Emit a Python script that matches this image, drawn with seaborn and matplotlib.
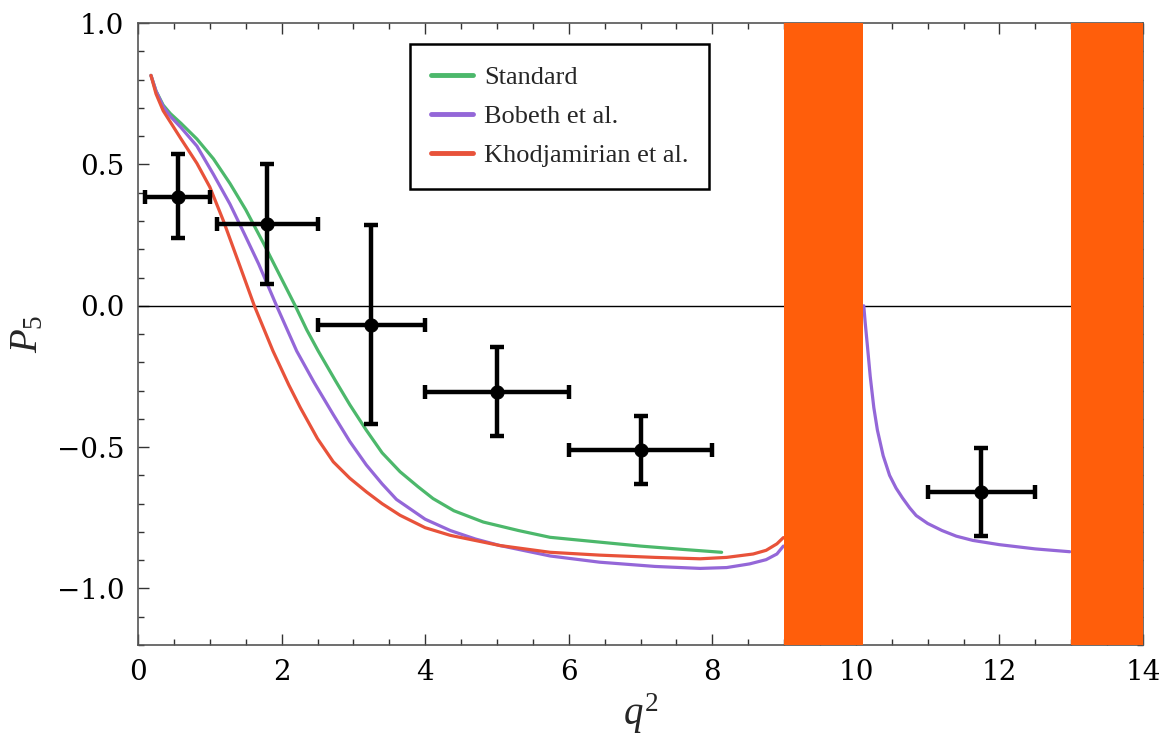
import numpy as np
import pandas as pd
import seaborn as sns
import matplotlib.pyplot as plt
from matplotlib.ticker import MultipleLocator

sns.set_style("ticks")
plt.rcParams['font.family'] = ['DejaVu Serif']
plt.rcParams['mathtext.fontset'] = 'custom'
plt.rcParams['mathtext.it'] = 'Liberation Serif:italic'
plt.rcParams['mathtext.rm'] = 'Liberation Serif'

# theory curves
std_x = [0.18, 0.25, 0.35, 0.45, 0.6, 0.82, 1.05, 1.28, 1.5, 1.75, 1.97, 2.19, 2.35, 2.51, 2.75, 2.95, 3.18,
         3.4, 3.65, 3.9, 4.11, 4.4, 4.81, 5.3, 5.74, 6.43, 7.0, 7.6, 8.13]
std_y = [0.815, 0.76, 0.71, 0.68, 0.645, 0.59, 0.52, 0.433, 0.34, 0.22, 0.11, 0.0, -0.085, -0.16, -0.265, -0.35, -0.44,
         -0.52, -0.587, -0.64, -0.682, -0.725, -0.765, -0.795, -0.819, -0.836, -0.85, -0.862, -0.872]

bob_x = [0.18, 0.25, 0.35, 0.45, 0.6, 0.82, 1.05, 1.28, 1.48, 1.68, 1.93, 2.21, 2.45, 2.72, 2.95, 3.18, 3.4, 3.6, 4.0,
         4.35, 4.7, 5.04, 5.74, 6.43, 7.2, 7.83, 8.2, 8.52, 8.75, 8.9, 8.99]
bob_y = [0.815, 0.76, 0.705, 0.67, 0.63, 0.565, 0.465, 0.36, 0.255, 0.148, 0.0, -0.16, -0.27, -0.385, -0.48, -0.563, -0.63, -0.685, -0.755,
         -0.795, -0.825, -0.848, -0.885, -0.907, -0.922, -0.929, -0.926, -0.913, -0.898, -0.878, -0.85]
bob2_x = [10.11, 10.13, 10.16, 10.2, 10.25, 10.3, 10.38, 10.47, 10.56, 10.65, 10.75, 10.84, 11.0, 11.2, 11.4,
          11.63, 12.0, 12.5, 12.98]
bob2_y = [0.0, -0.06, -0.14, -0.25, -0.36, -0.44, -0.53, -0.6, -0.645, -0.68, -0.715, -0.742, -0.77, -0.795, -0.815,
          -0.83, -0.845, -0.86, -0.87]

kho_x = [0.18, 0.25, 0.35, 0.45, 0.6, 0.82, 1.0, 1.19, 1.42, 1.62, 1.88, 2.1, 2.26, 2.5, 2.72, 2.95, 3.18, 3.4, 3.65, 4.0, 4.35,
         5.04, 5.74, 6.43, 7.2, 7.83, 8.2, 8.57, 8.75, 8.9, 8.99]
kho_y = [0.815, 0.75, 0.69, 0.65, 0.59, 0.504, 0.42, 0.30, 0.14, 0.0, -0.16, -0.28, -0.36, -0.47, -0.552, -0.61, -0.658, -0.70, -0.741, -0.785, -0.812,
         -0.848, -0.872, -0.882, -0.89, -0.895, -0.89, -0.878, -0.865, -0.842, -0.82]

# measurements
meas_x = [0.55, 1.8, 3.25, 5.0, 7.0, 11.75]
meas_xlo = [0.1, 1.1, 2.5, 4.0, 6.0, 11.0]
meas_xhi = [1.0, 2.5, 4.0, 6.0, 8.0, 12.5]
meas_y = [0.385, 0.288, -0.069, -0.305, -0.51, -0.66]
meas_ylo = [0.24, 0.077, -0.419, -0.46, -0.631, -0.815]
meas_yhi = [0.536, 0.50, 0.285, -0.146, -0.389, -0.504]

# vetoed regions
bands = [(9.0, 10.1), (13.0, 14.0)]

labels = ["Standard", "Bobeth et al.", "Khodjamirian et al."]
colors = ["#4cb86b", "#9467d8", "#e8523a"]

curves = pd.concat([
    pd.DataFrame({"q2": std_x, "P5": std_y, "model": labels[0], "seg": 0}),
    pd.DataFrame({"q2": bob_x, "P5": bob_y, "model": labels[1], "seg": 0}),
    pd.DataFrame({"q2": bob2_x, "P5": bob2_y, "model": labels[1], "seg": 1}),
    pd.DataFrame({"q2": kho_x, "P5": kho_y, "model": labels[2], "seg": 0}),
])

fig = plt.figure(figsize=(11.61, 7.45), dpi=100)
ax = fig.add_axes([0.1189, 0.1342, 0.8656, 0.8348])

ax.axhline(0, color="black", lw=1, zorder=1)
sns.lineplot(data=curves, x="q2", y="P5", hue="model", units="seg", estimator=None,
             hue_order=labels, palette=colors, lw=2.3, sort=False, ax=ax, zorder=3)

m = np.array(meas_x)
y = np.array(meas_y)
ax.errorbar(m, y,
            xerr=[m - np.array(meas_xlo), np.array(meas_xhi) - m],
            yerr=[y - np.array(meas_ylo), np.array(meas_yhi) - y],
            fmt="none", ecolor="black", elinewidth=3.2, capsize=5, capthick=3.2, zorder=4)
sns.scatterplot(x=meas_x, y=meas_y, color="black", s=90, edgecolor="black", zorder=5, ax=ax)

for a, b in bands:
    ax.axvspan(a, b, color="#ff5e0b", lw=0, zorder=6)

ax.set_xlim(0, 14)
ax.set_ylim(-1.2, 1.0)
ax.xaxis.set_major_locator(MultipleLocator(2))
ax.xaxis.set_minor_locator(MultipleLocator(0.5))
ax.yaxis.set_major_locator(MultipleLocator(0.5))
ax.yaxis.set_minor_locator(MultipleLocator(0.1))
ax.set_yticks([-1.0, -0.5, 0.0, 0.5, 1.0])
ax.set_yticklabels(["\u22121.0", "\u22120.5", "0.0", "0.5", "1.0"])
ax.tick_params(which="both", direction="in", top=True, right=True, colors="#333333",
               labelcolor="black", labelsize=20, pad=10)
ax.tick_params(which="major", length=8, width=1)
ax.tick_params(which="minor", length=4, width=1)
for s in ax.spines.values():
    s.set_color("#555555")
    s.set_linewidth(1.2)

ax.set_xlabel("$q^2$", fontsize=28, labelpad=4)
ax.set_ylabel("$P_5$", fontsize=28, labelpad=8)

leg = ax.legend(loc="upper left", bbox_to_anchor=(0.2706, 0.966), frameon=True,
                prop={"family": "Liberation Serif", "size": 19},
                fancybox=False, handlelength=1.6, borderpad=0.8, labelspacing=0.6,
                handletextpad=0.4, borderaxespad=0)
leg.get_frame().set_edgecolor("black")
leg.get_frame().set_linewidth(1.8)
leg.get_frame().set_alpha(1)
for line in leg.get_lines():
    line.set_linewidth(3.5)

fig.savefig("out.png", dpi=100)
